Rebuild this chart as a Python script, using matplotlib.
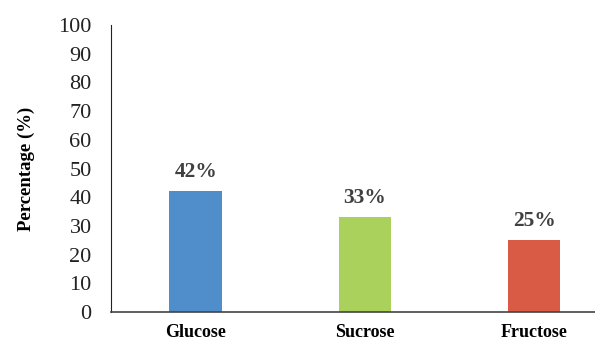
import matplotlib
matplotlib.use("Agg")
import matplotlib.pyplot as plt

# Sugar shares
sugars = ["Glucose", "Sucrose", "Fructose"]
percent = [42, 33, 25]
bar_colors = ["#4F8DCB", "#A9D15B", "#D95A45"]
yticks = list(range(0, 101, 10))

plt.rcParams["font.family"] = ["Liberation Serif", "DejaVu Serif"]

fig = plt.figure(figsize=(5.95, 3.4), dpi=100)
ax = fig.add_axes([0.1866, 0.0824, 0.8134, 0.844])

x = list(range(len(sugars)))
ax.bar(x, percent, width=0.31, color=bar_colors)

for xi, v in zip(x, percent):
    ax.annotate(f"{v}%", (xi, v), xytext=(0, 7), textcoords="offset points",
                ha="center", va="bottom", fontsize=15.5, fontweight="bold",
                color="#404040")

ax.set_xlim(-0.5, 2.36)
ax.set_ylim(0, 100)
ax.set_yticks(yticks)
ax.set_xticks(x)
ax.set_xticklabels(sugars, fontsize=13, fontweight="bold")
ax.tick_params(axis="y", length=0, labelsize=16, pad=14, colors="#222222")
ax.tick_params(axis="x", length=0, pad=9)

ax.spines["top"].set_visible(False)
ax.spines["right"].set_visible(False)
ax.spines["left"].set_color("#222222")
ax.spines["bottom"].set_color("#444444")
ax.spines["bottom"].set_linewidth(1.2)

ax.set_ylabel("Percentage (%)", fontsize=13.5, fontweight="bold", labelpad=17)

fig.savefig("out.png", dpi=100)
